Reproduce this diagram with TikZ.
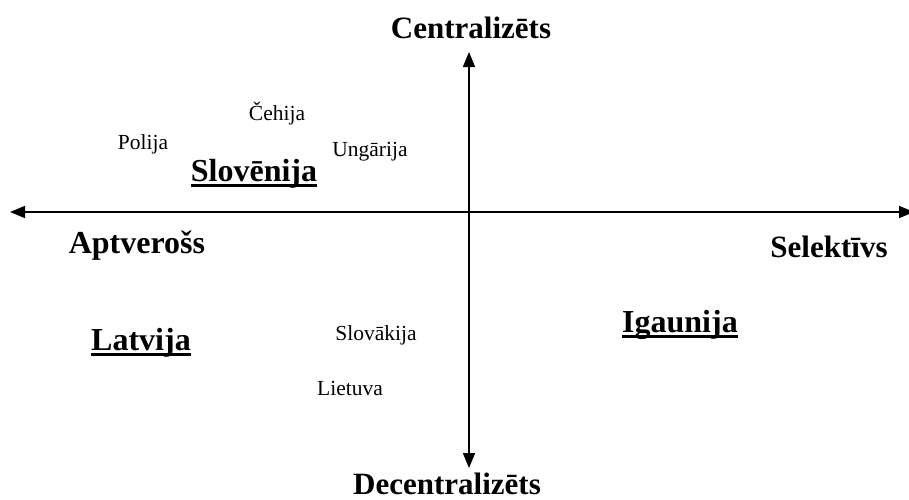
\documentclass[tikz,border=0pt]{standalone}
\usepackage{fontspec}
\setmainfont{Liberation Serif}
\usetikzlibrary{arrows.meta}
\begin{document}
\begin{tikzpicture}[x=1pt,y=-1pt,
  axis/.style={line width=1.6pt,{Triangle[length=15pt,width=12pt]}-{Triangle[length=15pt,width=12pt]}},
  biglab/.style={inner sep=0pt,anchor=base,font=\fontsize{31}{33}\selectfont\bfseries},
  ctry/.style={inner sep=0pt,anchor=base,font=\fontsize{32}{34}\selectfont\bfseries},
  small/.style={inner sep=0pt,anchor=base,font=\fontsize{21.5}{24}\selectfont},
  uline/.style={line width=3pt}]
\useasboundingbox (0,0) rectangle (909,499);
\coordinate (L) at (10,212);
\coordinate (R) at (914,212);
\coordinate (T) at (469,52);
\coordinate (B) at (469,468);
\draw[axis] (L) -- (R);
\draw[axis] (T) -- (B);
\node[biglab] (cen) at (471,38) {Centralizēts};
\node[biglab] (dec) at (447,494) {Decentralizēts};
\node[biglab,font=\fontsize{32}{34}\selectfont\bfseries] (apt) at (137,253) {Aptverošs};
\node[biglab] (sel) at (829,257) {Selektīvs};
\node[small] (ceh) at (277,120) {Čehija};
\node[small] (pol) at (143,149) {Polija};
\node[small] (ung) at (370,156) {Ungārija};
\node[small] (slk) at (376,340) {Slovākija};
\node[small] (lie) at (350,395) {Lietuva};
\node[ctry] (slo) at (254,181) {Slovēnija};
\node[ctry] (lat) at (141,350) {Latvija};
\node[ctry] (iga) at (680,332) {Igaunija};
\foreach \n in {slo,lat,iga}{
  \draw[uline] ([yshift=-4pt]\n.base west) -- ([yshift=-4pt]\n.base east);
}
\end{tikzpicture}
\end{document}
